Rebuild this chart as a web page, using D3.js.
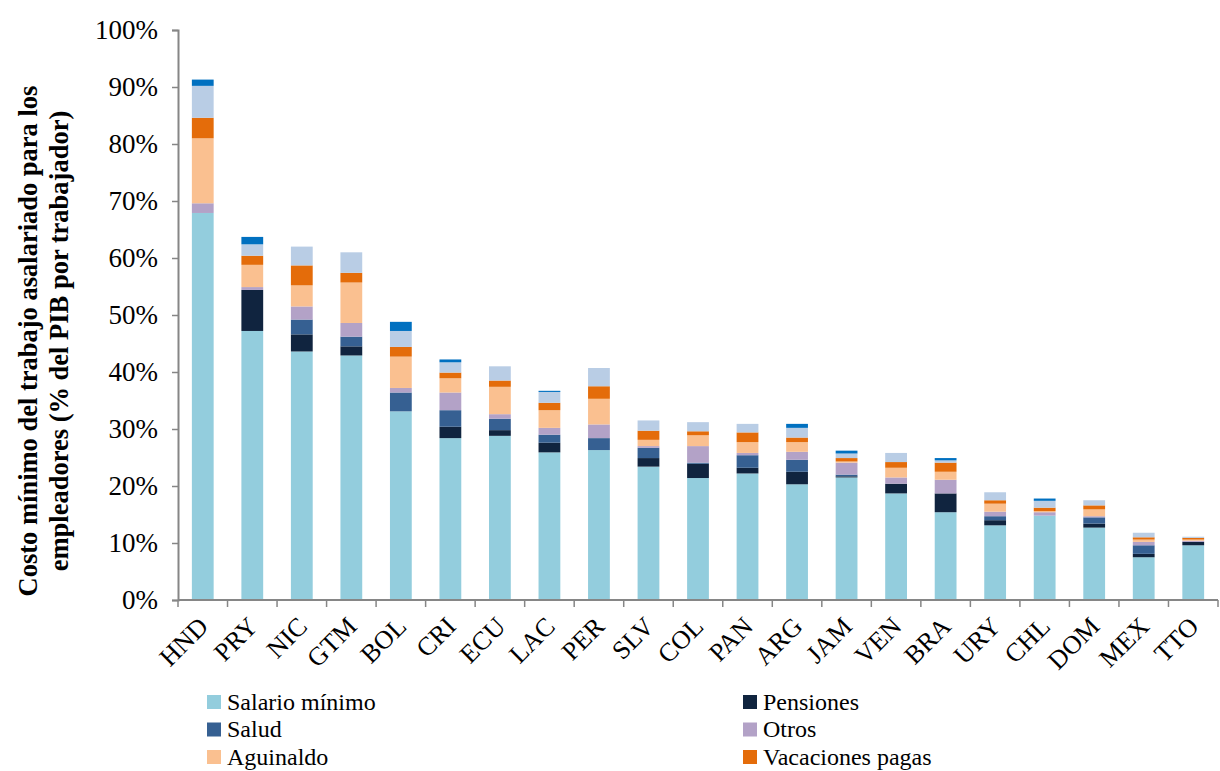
<!DOCTYPE html>
<html>
<head>
<meta charset="utf-8">
<script src="https://cdn.jsdelivr.net/npm/d3@7"></script>
<style>
  body { margin: 0; background: #fff; }
  svg { display: block; }
</style>
</head>
<body>
<svg id="chart" width="1220" height="771"></svg>
<script>
// costo mínimo del trabajo asalariado, stacked by component (% del PIB por trabajador)
const countries = ["HND","PRY","NIC","GTM","BOL","CRI","ECU","LAC","PER","SLV","COL",
                   "PAN","ARG","JAM","VEN","BRA","URY","CHL","DOM","MEX","TTO"];

const salario    = [67.9,47.2,43.6,42.9,33.1,28.4,28.8,25.9,26.3,23.4,21.4,22.2,20.3,21.5,18.7,15.4,13.1,14.8,12.7,7.5,9.6];
const pensiones  = [0,7.2,3.0,1.6,0,2.0,1.0,1.7,0,1.5,2.5,1.0,2.2,0.2,1.7,3.3,0.9,0,0.7,0.6,0.6];
const salud      = [0,0,2.6,1.7,3.3,2.9,2.0,1.4,2.1,1.8,0.2,2.2,2.1,0.3,0,0,0.7,0,1.1,1.5,0];
const otros      = [1.7,0.5,2.3,2.4,0.8,3.1,0.8,1.2,2.4,0.3,2.9,0.4,1.4,2.1,1.1,2.4,0.8,0.6,0.2,0.6,0.2];
const aguinaldo  = [11.4,3.9,3.7,7.1,5.5,2.5,4.8,3.1,4.5,1.1,1.9,1.9,1.7,0.2,1.7,1.4,1.4,0.2,1.2,0.4,0.2];
const vacaciones = [3.6,1.6,3.5,1.7,1.7,1.0,1.1,1.3,2.2,1.6,0.7,1.7,0.8,0.6,1.0,1.6,0.6,0.6,0.7,0.4,0.3];
const extraA     = [5.6,2.0,3.3,3.6,2.8,1.8,2.5,1.9,3.2,1.8,1.6,1.5,1.7,0.8,1.6,0.4,1.4,1.2,0.9,0.8,0.2];
const extraB     = [1.1,1.3,0,0,1.6,0.5,0,0.2,0,0,0,0,0.7,0.5,0,0.4,0,0.4,0,0,0];

const yTicks = [0,10,20,30,40,50,60,70,80,90,100];

const series = [
  { key: "salario",    label: "Salario mínimo",   color: "#93cddd", values: salario },
  { key: "pensiones",  label: "Pensiones",        color: "#10243f", values: pensiones },
  { key: "salud",      label: "Salud",            color: "#366092", values: salud },
  { key: "otros",      label: "Otros",            color: "#b3a2c7", values: otros },
  { key: "aguinaldo",  label: "Aguinaldo",        color: "#fac090", values: aguinaldo },
  { key: "vacaciones", label: "Vacaciones pagas", color: "#e46c0a", values: vacaciones },
  { key: "extraA",     label: null,               color: "#b9cde5", values: extraA },
  { key: "extraB",     label: null,               color: "#0070c0", values: extraB },
];

const rows = countries.map((c, i) => {
  const r = { country: c };
  series.forEach(s => r[s.key] = s.values[i]);
  return r;
});

const SERIF = "'Liberation Serif', 'Times New Roman', serif";
const svg = d3.select("#chart").style("font-family", SERIF);
const M = { left: 178, right: 1218, top: 30, bottom: 600 };
const AXIS = "#868686";

const x = d3.scaleBand().domain(countries).range([M.left, M.right]).paddingInner(0.56).paddingOuter(0.28);
const y = d3.scaleLinear().domain([0, 100]).range([M.bottom, M.top]);

const stacked = d3.stack().keys(series.map(s => s.key))(rows);

svg.append("g").selectAll("g").data(stacked).join("g")
  .attr("fill", (d, i) => series[i].color)
  .selectAll("rect").data(d => d).join("rect")
    .attr("x", d => x(d.data.country))
    .attr("width", x.bandwidth())
    .attr("y", d => y(d[1]))
    .attr("height", d => Math.max(0, y(d[0]) - y(d[1])));

// y axis
const yAxis = svg.append("g").attr("transform", `translate(${M.left},0)`)
  .call(d3.axisLeft(y).tickValues(yTicks).tickFormat(d => d + "%").tickSize(6).tickPadding(14));
yAxis.attr("font-family", null);
yAxis.select(".domain").attr("stroke", AXIS).attr("stroke-width", 2);
yAxis.selectAll(".tick line").attr("stroke", AXIS).attr("stroke-width", 1.5);
yAxis.selectAll(".tick text").attr("fill", "#000")
  .style("font-family", SERIF).style("font-size", "27px");

// x axis: line plus ticks at band boundaries
const bounds = d3.range(countries.length + 1).map(i => M.left + i * (M.right - M.left) / countries.length);
svg.append("line").attr("x1", M.left).attr("x2", M.right).attr("y1", M.bottom).attr("y2", M.bottom)
  .attr("stroke", AXIS).attr("stroke-width", 2);
svg.append("g").selectAll("line").data(bounds).join("line")
  .attr("x1", d => d).attr("x2", d => d).attr("y1", M.bottom).attr("y2", M.bottom + 7)
  .attr("stroke", AXIS).attr("stroke-width", 1.5);

svg.append("g").selectAll("text").data(countries).join("text")
  .attr("transform", d => `translate(${x(d) + x.bandwidth() / 2 + 7},${M.bottom + 28}) rotate(-45)`)
  .attr("text-anchor", "end")
  .style("font-family", SERIF).style("font-size", "26px")
  .text(d => d);

// y title, two lines
const yt = svg.append("text")
  .attr("transform", `translate(37,${(M.top + M.bottom) / 2 + 26}) rotate(-90)`)
  .attr("text-anchor", "middle")
  .style("font-family", SERIF).style("font-size", "26.5px").style("font-weight", "bold");
yt.append("tspan").attr("x", 0).attr("dy", 0).text("Costo mínimo del trabajo asalariado para los");
yt.append("tspan").attr("x", 0).attr("dy", 31).text("empleadores (% del PIB por trabajador)");

// legend (only labelled series)
const legendItems = series.filter(s => s.label);
const lg = svg.append("g").selectAll("g").data(legendItems).join("g")
  .attr("transform", (d, i) => `translate(${i % 2 ? 743 : 207},${702 + Math.floor(i / 2) * 27.5})`);
lg.append("rect").attr("x", 0).attr("y", -7).attr("width", 14).attr("height", 14).attr("fill", d => d.color);
lg.append("text").attr("x", 20).attr("y", 0).attr("dy", "0.33em")
  .style("font-family", SERIF).style("font-size", "24px").text(d => d.label);
</script>
</body>
</html>
